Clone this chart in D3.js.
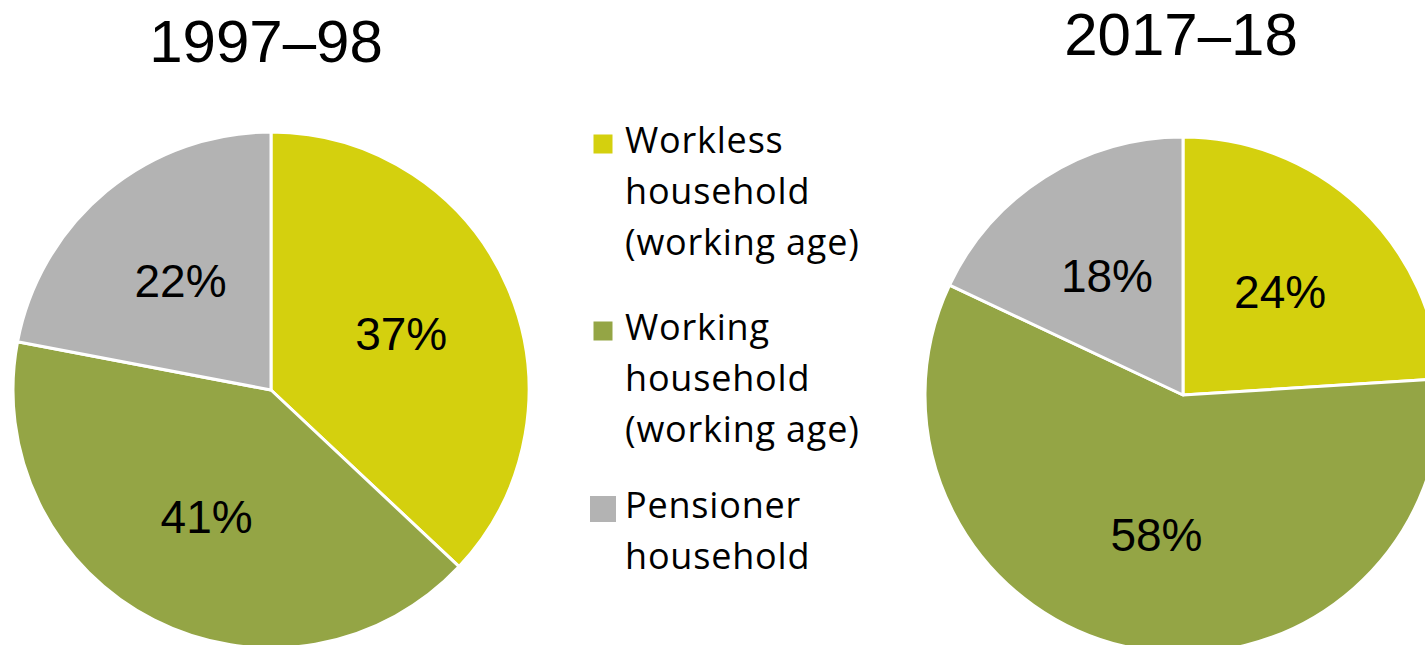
<!DOCTYPE html>
<html>
<head>
<meta charset="utf-8">
<script src="https://cdn.jsdelivr.net/npm/d3@7"></script>
<style>
  body { margin: 0; background: #fff; }
  svg { display: block; }
</style>
</head>
<body>
<div id="chart"></div>
<script>
// household types, in legend / slice order
var categories = ["Workless household (working age)", "Working household (working age)", "Pensioner household"];
var legendLines = [
    ["Workless", "household", "(working age)"],
    ["Working", "household", "(working age)"],
    ["Pensioner", "household"]
];
var years = ["1997\u201398", "2017\u201318"];
var shares1997 = [37, 41, 22];
var shares2017 = [24, 58, 18];
var colours = ["#d4d00e", "#94a545", "#b3b3b3"];

var width = 1425, height = 645;

var svg = d3.select("#chart").append("svg")
    .attr("width", width)
    .attr("height", height);

var radius = 258;

var pie = d3.pie()
    .sort(null)
    .value(function (d) { return d; });

var arc = d3.arc()
    .innerRadius(0)
    .outerRadius(radius);

// labels sit a bit inside the middle of each slice
var labelArc = d3.arc()
    .innerRadius(radius * 0.55)
    .outerRadius(radius * 0.55);

var pies = [
    { title: years[0], values: shares1997, cx: 271, cy: 390, titleX: 266, titleY: 62 },
    { title: years[1], values: shares2017, cx: 1183, cy: 395, titleX: 1181, titleY: 55 }
];

pies.forEach(function (p) {
    svg.append("text")
        .attr("x", p.titleX)
        .attr("y", p.titleY)
        .attr("text-anchor", "middle")
        .attr("font-family", "Liberation Sans, Arial, sans-serif")
        .attr("font-size", 60)
        .attr("fill", "#000")
        .text(p.title);

    var g = svg.append("g")
        .attr("transform", "translate(" + p.cx + "," + p.cy + ")");

    var slices = pie(p.values);

    g.selectAll("path")
        .data(slices)
        .enter()
        .append("path")
        .attr("d", arc)
        .attr("fill", function (d, i) { return colours[i]; })
        .attr("stroke", "#fff")
        .attr("stroke-width", 3)
        .attr("stroke-linejoin", "round");

    g.selectAll("text")
        .data(slices)
        .enter()
        .append("text")
        .attr("transform", function (d) {
            return "translate(" + labelArc.centroid(d) + ")";
        })
        .attr("dy", "0.36em")
        .attr("text-anchor", "middle")
        .attr("font-family", "Liberation Sans, Arial, sans-serif")
        .attr("font-size", 46)
        .attr("fill", "#000")
        .text(function (d) { return d.data + "%"; });
});

// legend
var legendTop = [153, 340, 518];
var boxSize = [19, 19, 26];

var legend = svg.append("g")
    .attr("font-family", "'Open Sans', sans-serif")
    .attr("font-size", 36)
    .attr("letter-spacing", 0.8)
    .attr("fill", "#000");

legendLines.forEach(function (lines, i) {
    var item = legend.append("g").attr("class", "legend-item");
    item.append("title").text(categories[i]);
    item.append("rect")
        .attr("x", 603 - boxSize[i] / 2)
        .attr("y", legendTop[i] - 9 - boxSize[i] / 2)
        .attr("width", boxSize[i])
        .attr("height", boxSize[i])
        .attr("fill", colours[i]);
    lines.forEach(function (line, j) {
        item.append("text")
            .attr("x", 625)
            .attr("y", legendTop[i] + j * 51)
            .text(line);
    });
});
</script>
</body>
</html>
